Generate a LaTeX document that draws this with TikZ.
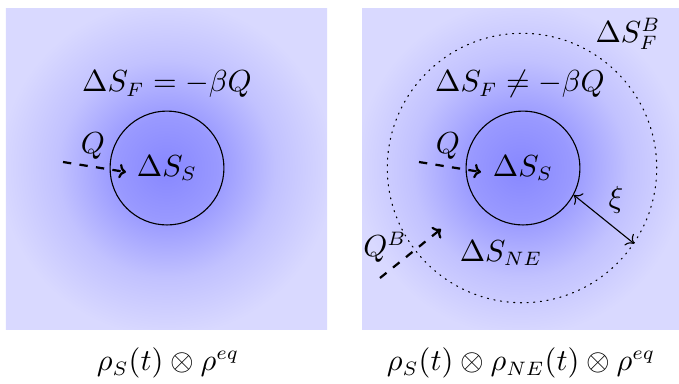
\documentclass[tikz,border=0pt]{standalone}
\usetikzlibrary{arrows.meta}

\pgfdeclareradialshading{glow}{\pgfpoint{0bp}{0bp}}{color(0bp)=(blue!47); color(8bp)=(blue!40); color(17bp)=(blue!24); color(26bp)=(blue!15); color(50bp)=(blue!15)}

\begin{document}
\begin{tikzpicture}[x=0.36pt,y=-0.36pt,line cap=round,line join=round,
  >={To[length=2.5pt]},font=\fontsize{10.5}{12}\selectfont,
  sys/.style={circle,draw,inner sep=0pt,minimum size=41pt},
  bath/.style={circle,draw,dotted,inner sep=0pt,minimum size=97pt},
  flux/.style={->,thick,dashed,line cap=butt}]
  \useasboundingbox (0,0) rectangle (679,383);

  % two reservoirs
  \shade[shading=glow] (6,8) rectangle (327,329);
  \shade[shading=glow] (362,8) rectangle (679,329);

  % left: equilibrium bath
  \node[sys] (sysL) at (167,168) {$\Delta S_S$};
  \node (sfL) at (167,84) {$\Delta S_F = -\beta Q$};
  \coordinate (qL0) at (63,162);
  \coordinate (qL1) at (126,172);
  \draw[flux] (qL0) -- (qL1);
  \node (qL) at (93,146) {$Q$};
  \node (rhoL) at (168,363) {$\rho_S(t)\otimes\rho^{eq}$};

  % right: non-equilibrium layer
  \node[sys] (sysR) at (523,168) {$\Delta S_S$};
  \node[bath] (bathR) at (522,168) {};
  \node (sfR) at (520,84) {$\Delta S_F \neq -\beta Q$};
  \node (sfB) at (628,34) {$\Delta S_F^B$};
  \coordinate (qR0) at (419,162);
  \coordinate (qR1) at (481,172);
  \draw[flux] (qR0) -- (qR1);
  \node (qR) at (448,146) {$Q$};
  \coordinate (qB0) at (380,278);
  \coordinate (qB1) at (441,229);
  \draw[flux] (qB0) -- (qB1);
  \node (qB) at (385,247) {$Q^B$};
  \node (sne) at (501,253) {$\Delta S_{NE}$};
  \node (xi) at (616,200) {$\xi$};
  \draw[<->] (sysR.-28) -- (bathR.-34);
  \node (rhoR) at (521,363) {$\rho_S(t)\otimes\rho_{NE}(t)\otimes\rho^{eq}$};
\end{tikzpicture}
\end{document}
